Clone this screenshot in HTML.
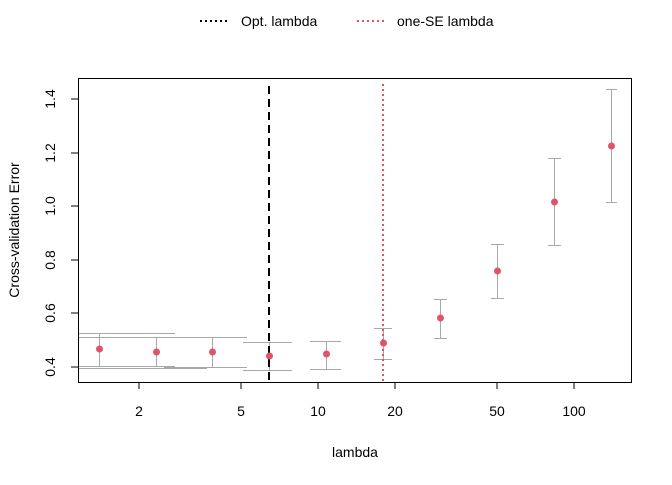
<!DOCTYPE html><html><head><style>body{margin:0;background:#fff}</style></head><body>
<svg width="672" height="480" xmlns="http://www.w3.org/2000/svg" font-family="Liberation Sans, Arial, sans-serif" font-size="14">
<rect width="672" height="480" fill="#fff"/>
<line x1="200" y1="21" x2="230" y2="21" stroke="#000" stroke-width="2" stroke-dasharray="2,3"/>
<text x="241" y="26">Opt. lambda</text>
<line x1="357" y1="21" x2="387" y2="21" stroke="#DF536B" stroke-width="2" stroke-dasharray="2,3"/>
<text x="397" y="26">one-SE lambda</text>
<rect x="78.5" y="78.5" width="553" height="304" fill="none" stroke="#000"/>
<g stroke="#000" shape-rendering="crispEdges">
<line x1="78" y1="99" x2="71" y2="99"/><line x1="78" y1="153" x2="71" y2="153"/><line x1="78" y1="206" x2="71" y2="206"/><line x1="78" y1="260" x2="71" y2="260"/><line x1="78" y1="313" x2="71" y2="313"/><line x1="78" y1="367" x2="71" y2="367"/>
<line x1="139" y1="382" x2="139" y2="389"/><line x1="241" y1="382" x2="241" y2="389"/><line x1="318" y1="382" x2="318" y2="389"/><line x1="395" y1="382" x2="395" y2="389"/><line x1="497" y1="382" x2="497" y2="389"/><line x1="574" y1="382" x2="574" y2="389"/>
</g>
<g text-anchor="middle">
<text transform="translate(55,99) rotate(-90)">1.4</text>
<text transform="translate(55,153) rotate(-90)">1.2</text>
<text transform="translate(55,206) rotate(-90)">1.0</text>
<text transform="translate(55,260) rotate(-90)">0.8</text>
<text transform="translate(55,313) rotate(-90)">0.6</text>
<text transform="translate(55,367) rotate(-90)">0.4</text>
<text x="139" y="416">2</text><text x="241" y="416">5</text><text x="318" y="416">10</text><text x="395" y="416">20</text><text x="497" y="416">50</text><text x="574" y="416">100</text>
<text x="355" y="457">lambda</text>
<text transform="translate(19,230) rotate(-90)">Cross-validation Error</text>
</g>
<g stroke="#A8A8A8" stroke-width="1" fill="none" shape-rendering="crispEdges">
<path d="M79 333.5H175M79 337.5H247M79 366.5H175M79 368.5H207M164 367.5H247M243 342.5H292M243 370.5H292M310 341.5H341M310 369.5H341M374 328.5H392M374 359.5H392"/>
<path d="M99.5 333V366M156.5 337V367M212.5 337V367M269.5 342V370M326.5 341V369M383.5 328V359"/>
<path d="M440.5 299V338M434 299.5H447M434 338.5H447M497.5 244V298M491 244.5H504M491 298.5H504M554.5 158V245M548 158.5H561M548 245.5H561M611.5 89V202M606 89.5H617M606 202.5H617"/>
</g>
<line x1="269" y1="86" x2="269" y2="382" stroke="#000" stroke-width="2" stroke-dasharray="8,5"/>
<line x1="383" y1="84" x2="383" y2="382" stroke="#DF536B" stroke-width="2" stroke-dasharray="2,3"/>
<g fill="#DF536B">
<circle cx="99.5" cy="349" r="3.5"/><circle cx="156.5" cy="352" r="3.5"/><circle cx="212.5" cy="352" r="3.5"/><circle cx="269.5" cy="356" r="3.5"/><circle cx="326.5" cy="354" r="3.5"/><circle cx="383.5" cy="343" r="3.5"/><circle cx="440.5" cy="318" r="3.5"/><circle cx="497.5" cy="271" r="3.5"/><circle cx="554.5" cy="202" r="3.5"/><circle cx="611.5" cy="146" r="3.5"/>
</g>
</svg>
</body></html>
